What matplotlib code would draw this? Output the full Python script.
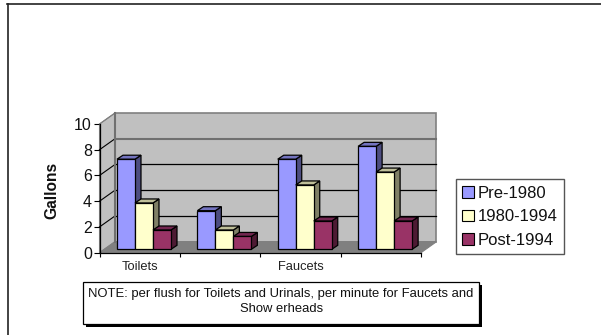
import matplotlib
matplotlib.use('Agg')
import matplotlib.pyplot as plt
from matplotlib.lines import Line2D
from matplotlib.patches import Patch, Polygon, Rectangle

plt.rcParams['font.family'] = ['Liberation Sans', 'DejaVu Sans']

# data
categories = ['Toilets', '', 'Faucets', '']
series_names = ['Pre-1980', '1980-1994', 'Post-1994']
pre_1980 = [7, 3, 7, 8]
mid_1980_1994 = [3.6, 1.5, 5, 6]
post_1994 = [1.5, 1, 2.2, 2.2]
y_ticks = [0, 2, 4, 6, 8, 10]
note_text = 'NOTE: per flush for Toilets and Urinals, per minute for Faucets and\nShow erheads'

# colours: front, side, top
front_colors = ['#9999FF', '#FFFFCC', '#993366']
side_colors = ['#4D4D80', '#808066', '#4D1A33']
top_colors = ['#7373BF', '#BFBF99', '#732650']

W, H = 601, 335
fig = plt.figure(figsize=(W / 100, H / 100), dpi=100)

# front plane of the 3D box, in pixels
left, right, base, top = 99.5, 421, 252.7, 124
ax = fig.add_axes([left / W, 1 - base / H, (right - left) / W, (base - top) / H])
ax.set_xlim(0, 4)
ax.set_ylim(0, 10)
for s in ax.spines.values():
    s.set_visible(False)
ax.patch.set_visible(False)

sx = (right - left) / 4
sy = (base - top) / 10
depth_x = 15.5 / sx
depth_y = 11 / sy
bar_dx = 6 / sx
bar_dy = 4 / sy
lift = 3.4 / sy
bar_w = 18 / sx
bar_shift = 4.3 / sx

# walls and floor
ax.add_patch(Polygon([(0, 0), (depth_x, depth_y), (depth_x, 10 + depth_y), (0, 10)],
                     fc='#C0C0C0', ec='#808080', lw=0.8, clip_on=False, zorder=1))
ax.add_patch(Rectangle((depth_x, depth_y), 4, 10, fc='#C0C0C0', ec='#808080', lw=1.2,
                       clip_on=False, zorder=1))
ax.add_patch(Polygon([(0, 0), (4, 0), (4 + depth_x, depth_y), (depth_x, depth_y)],
                     fc='#808080', ec='#808080', lw=0.8, clip_on=False, zorder=1))

# gridlines, 8 comes out thick and grey in the original
for v in y_ticks[1:-1]:
    col = '#707070' if v == 8 else 'black'
    lw = 1.5 if v == 8 else 0.9
    ax.plot([depth_x, 4 + depth_x], [v + depth_y, v + depth_y], color=col, lw=lw,
            clip_on=False, zorder=2)
    ax.plot([0, depth_x], [v, v + depth_y], color='black', lw=0.8, clip_on=False, zorder=2)
ax.plot([0, depth_x], [10, 10 + depth_y], color='#808080', lw=0.8, clip_on=False, zorder=2)
ax.plot([depth_x, depth_x], [depth_y, 10 + depth_y], color='#707070', lw=1.5, clip_on=False, zorder=2)

# bars
all_series = [pre_1980, mid_1980_1994, post_1994]
z = 3
for i in range(len(categories)):
    for j, vals in enumerate(all_series):
        v = vals[i]
        x0 = i + 0.5 + bar_shift + (j - 1.5) * bar_w
        x1 = x0 + bar_w
        y1 = lift + v
        ax.add_patch(Polygon([(x1, lift), (x1 + bar_dx, lift + bar_dy), (x1 + bar_dx, y1 + bar_dy), (x1, y1)],
                             fc=side_colors[j], ec='black', lw=0.9, clip_on=False, zorder=z))
        ax.add_patch(Polygon([(x0, y1), (x1, y1), (x1 + bar_dx, y1 + bar_dy), (x0 + bar_dx, y1 + bar_dy)],
                             fc=top_colors[j], ec='black', lw=0.9, clip_on=False, zorder=z))
        ax.bar(x0, v, bar_w, bottom=lift, align='edge', color=front_colors[j], edgecolor='black',
               linewidth=0.9, clip_on=False, zorder=z + 1)
        z += 2

# axes lines
ax.plot([0, 0], [0, 10], color='black', lw=0.9, clip_on=False, zorder=50)
ax.plot([0, 4], [0, 0], color='black', lw=0.9, clip_on=False, zorder=50)

ax.set_yticks(y_ticks)
ax.tick_params(axis='y', length=4, width=0.8, labelsize=11.5, pad=1.5, labelcolor='#111111')
ax.set_xticks(range(5))
ax.set_xticklabels([])
ax.tick_params(axis='x', length=3, width=0.8)
for i, c in enumerate(categories):
    if c:
        ax.annotate(c, (i + 0.5, 0), xytext=(0, -8), textcoords='offset pixels',
                    ha='center', va='top', fontsize=9.3, color='#222222')

fig.text(51.5 / W, 1 - 190 / H, 'Gallons', rotation=90, ha='center', va='center',
         fontsize=11.2, fontweight='bold', color='#111111')

# legend
handles = [Patch(fc=c, ec='black', lw=0.8) for c in front_colors]
leg = fig.legend(handles, series_names, loc='upper left',
                 bbox_to_anchor=(456 / W, 1 - 179.3 / H), fontsize=12,
                 fancybox=False, framealpha=1, edgecolor='#555555',
                 handlelength=0.68, handleheight=0.68, handletextpad=0.22,
                 labelspacing=0.52, borderpad=0.38, borderaxespad=0)
leg.get_frame().set_linewidth(1.0)
for t in leg.get_texts():
    t.set_color('#111111')

# note box with hard shadow
nx0, nx1, ny0, ny1 = 83.3, 479, 281.7, 324.3
fig.add_artist(Rectangle((nx0 / W + 3 / W, 1 - (ny1 + 3) / H), (nx1 - nx0) / W, (ny1 - ny0) / H,
                         transform=fig.transFigure, fc='black', ec='black', lw=0))
fig.add_artist(Rectangle((nx0 / W, 1 - ny1 / H), (nx1 - nx0) / W, (ny1 - ny0) / H,
                         transform=fig.transFigure, fc='white', ec='black', lw=0.9))
fig.text((nx0 + nx1) / 2 / W, 1 - 301.5 / H, note_text, ha='center', va='center',
         fontsize=9.4, linespacing=1.35, color='#111111')

# outer frame, only left and top show
fig.add_artist(Line2D([7.5 / W, 7.5 / W], [0, 1 - 4 / H], color='#222222', lw=1.2))
fig.add_artist(Line2D([7 / W, 1], [1 - 4 / H, 1 - 4 / H], color='#222222', lw=1.2))

fig.savefig('out.png', dpi=100)
